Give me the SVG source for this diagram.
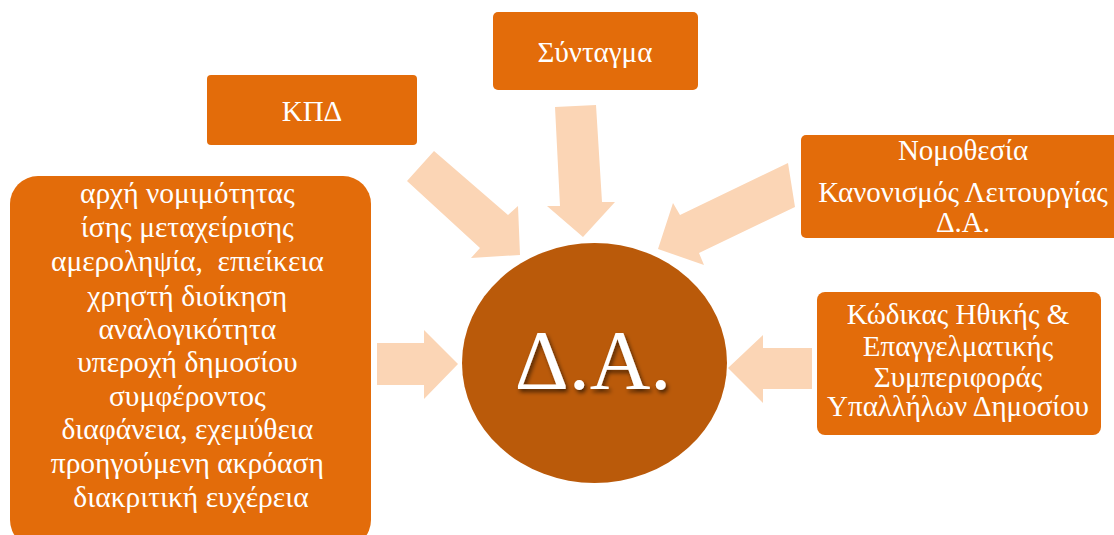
<svg xmlns="http://www.w3.org/2000/svg" width="1114" height="535" viewBox="0 0 1114 535">
  <defs>
    <style>
      .box { fill: #E36C0A; }
      .arrow { fill: #FBD5B5; }
      .t { font-family: "Liberation Serif", "Times New Roman", serif; fill: #FFFFFF; text-anchor: middle; }
    </style>
    <filter id="shadow" x="-20%" y="-20%" width="140%" height="140%">
      <feDropShadow dx="2" dy="3" stdDeviation="2" flood-color="#000000" flood-opacity="0.6"/>
    </filter>
  </defs>
  <rect width="1114" height="535" fill="#FFFFFF"/>

  <g id="connectors">
    <polygon class="arrow" points="377,343 424,343 424,330 458,364 424,399 424,385 377,385"/>
    <polygon class="arrow" points="812,348 763,348 763,335 728,368 763,403 763,389 812,389"/>
    <polygon class="arrow" points="407,181 434,151 508,215 518,206 520,255 471,258 480,248"/>
    <polygon class="arrow" points="555,107 596,105 602,202 615,202 583,237 547,206 560,206"/>
    <polygon class="arrow" points="788,163 795,207 699,253 704,265 658,249 673,203 680,215"/>
  </g>

  <g id="node-kpd">
    <rect class="box" x="207" y="75" width="210" height="70" rx="4"/>
    <text class="t" x="312" y="121" font-size="29">ΚΠΔ</text>
  </g>

  <g id="node-syntagma">
    <rect class="box" x="493" y="12" width="205" height="78" rx="5"/>
    <text class="t" x="595" y="62" font-size="29">Σύνταγμα</text>
  </g>

  <g id="node-nomothesia">
    <rect class="box" x="801" y="135" width="324" height="103" rx="5"/>
    <text class="t" x="963" y="160" font-size="29">Νομοθεσία</text>
    <text class="t" x="963" y="202" font-size="29">Κανονισμός Λειτουργίας</text>
    <text class="t" x="963" y="232" font-size="29">Δ.Α.</text>
  </g>

  <g id="node-kodikas">
    <rect class="box" x="817" y="292" width="284" height="143" rx="8"/>
    <text class="t" x="958" y="324" font-size="29">Κώδικας Ηθικής &amp;</text>
    <text class="t" x="958" y="356" font-size="29">Επαγγελματικής</text>
    <text class="t" x="958" y="387" font-size="29">Συμπεριφοράς</text>
    <text class="t" x="958" y="416" font-size="29">Υπαλλήλων Δημοσίου</text>
  </g>

  <g id="node-principles">
    <rect class="box" x="10" y="176" width="361" height="372" rx="28"/>
    <text class="t" font-size="29.5">
      <tspan x="191" y="203">αρχή νομιμότητας</tspan>
      <tspan x="191" y="237">ίσης μεταχείρισης</tspan>
      <tspan x="191" y="271">αμεροληψία,&#160; επιείκεια</tspan>
      <tspan x="191" y="306">χρηστή διοίκηση</tspan>
      <tspan x="191" y="339">αναλογικότητα</tspan>
      <tspan x="191" y="372">υπεροχή δημοσίου</tspan>
      <tspan x="191" y="406">συμφέροντος</tspan>
      <tspan x="191" y="439">διαφάνεια, εχεμύθεια</tspan>
      <tspan x="191" y="473">προηγούμενη ακρόαση</tspan>
      <tspan x="191" y="507">διακριτική ευχέρεια</tspan>
    </text>
  </g>

  <g id="node-da">
    <ellipse cx="594.5" cy="363" rx="132.5" ry="120" fill="#BA5A0A"/>
    <text class="t" x="593" y="389" font-size="84" filter="url(#shadow)">Δ.Α.</text>
  </g>
</svg>
